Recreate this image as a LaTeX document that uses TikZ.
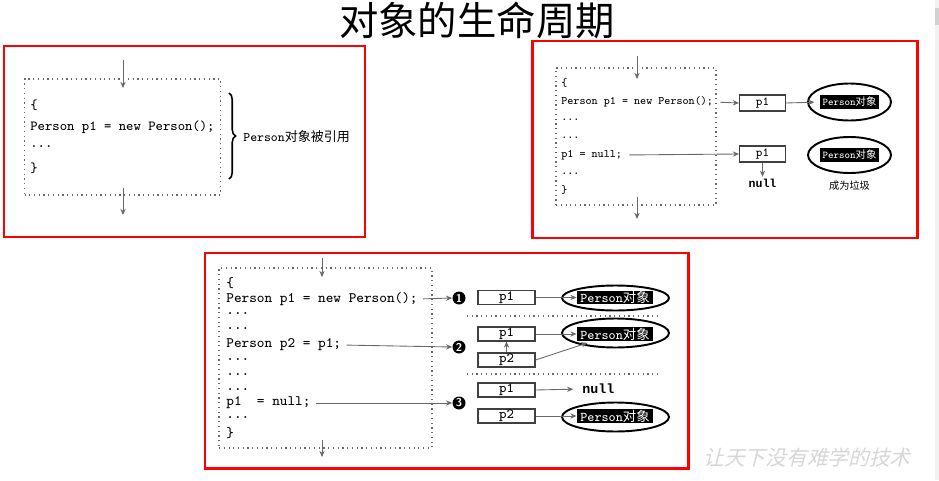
\documentclass[tikz,border=0pt]{standalone}
\usepackage{fontspec}
\newfontfamily\cjk{Noto Sans CJK SC}
\newfontfamily\cjkslant[FakeSlant=0.25]{Noto Sans CJK SC}
\newfontfamily\boldmono{Liberation Mono}
\usepackage{tikz}
\usetikzlibrary{shapes.geometric, arrows.meta, positioning, calc, decorations.pathreplacing}
\definecolor{framered}{RGB}{255, 0, 0}
\definecolor{linegray}{RGB}{105, 105, 105}
\definecolor{markgray}{RGB}{215, 215, 215}
\newcommand{\pobj}{\texttt{Person}{\cjk 对象}}
\tikzset{
    redframe/.style={draw=framered, line width=1.7pt},
    codeframe/.style={draw=linegray, dotted, line width=0.7pt},
    line/.style={draw, -{Stealth[length=3.5pt, width=3pt]}, linegray, line width=0.5pt},
    sepline/.style={draw=linegray, dotted, line width=0.7pt},
    codeA/.style={anchor=west, inner sep=0pt, font=\ttfamily\fontsize{7.9}{9}\selectfont},
    codeB/.style={anchor=west, inner sep=0pt, font=\ttfamily\fontsize{6.5}{7}\selectfont},
    codeC/.style={anchor=west, inner sep=0pt, font=\ttfamily\fontsize{8.2}{9}\selectfont}
}

\begin{document}
\begin{tikzpicture}[
    x=0.02cm, y=-0.02cm,
    refbox/.style={rectangle, draw=black!75, line width=0.6pt, inner sep=0pt, font=\ttfamily\fontsize{8}{9}\selectfont},
    objring/.style={ellipse, draw, line width=1.1pt, inner sep=0pt},
    objtag/.style={rectangle, fill=black, text=white, inner xsep=2pt, inner ysep=0.2pt},
    numdot/.style={circle, fill=black, text=white, inner sep=0pt, minimum size=0.26cm, font=\sffamily\bfseries\fontsize{6.5}{7}\selectfont}
]
    \useasboundingbox (0,0) rectangle (939,480);
    \fill[white] (0,0) rectangle (939,480);
    \fill[gray!10] (935,0) rectangle (939,480);
    \fill[gray!35] (935,8) rectangle (939,25);

    \node[font=\cjk\fontsize{22.4}{25}\selectfont] (title) at (477,20) {对象的生命周期};

    % first panel
    \draw[redframe] (4,46) rectangle (365,237);
    \node[codeframe, minimum width=3.92cm, minimum height=2.32cm] (frameA) at (122.5,137) {};
    \coordinate (inA) at (123,60);
    \coordinate (inAend) at (123,88);
    \coordinate (outA) at (123,188);
    \coordinate (outAend) at (123,215);
    \draw[line] (inA) -- (inAend);
    \draw[line] (outA) -- (outAend);
    \node[codeA] (a1) at (30,105) {\{};
    \node[codeA] (a2) at (30,127) {Person p1 = new Person();};
    \node[codeA] (a3) at (30,147) {...};
    \node[codeA] (a4) at (30,168) {\}};
    \coordinate (braceTop) at (229,93);
    \coordinate (braceBot) at (229,179);
    \draw[decorate, decoration={brace, amplitude=0.13cm}, line width=0.9pt] (braceTop) -- (braceBot);
    \node[anchor=west, inner sep=0pt, font=\fontsize{7.4}{8}\selectfont] (refd) at (243,137) {\texttt{Person}{\cjk 对象被引用}};

    % second panel
    \draw[redframe] (532,41) rectangle (917,238);
    \node[codeframe, minimum width=3.2cm, minimum height=2.74cm] (frameB) at (636,136.5) {};
    \coordinate (inB) at (637,56);
    \coordinate (inBend) at (637,79);
    \coordinate (outB) at (637,197);
    \coordinate (outBend) at (637,219);
    \draw[line] (inB) -- (inBend);
    \draw[line] (outB) -- (outBend);
    \node[codeB] (b1) at (561,83) {\{};
    \node[codeB] (b2) at (561,102) {Person p1 = new Person();};
    \node[codeB] (b3) at (561,120) {...};
    \node[codeB] (b4) at (561,138) {...};
    \node[codeB] (b5) at (561,155) {p1 = null;};
    \node[codeB] (b6) at (561,174) {...};
    \node[codeB] (b7) at (561,190) {\}};

    \node[refbox, minimum width=0.92cm, minimum height=0.32cm, font=\ttfamily\fontsize{7}{8}\selectfont] (bp1) at (762.5,103) {p1};
    \node[refbox, minimum width=0.92cm, minimum height=0.32cm, font=\ttfamily\fontsize{7}{8}\selectfont] (bp1n) at (762.5,154) {p1};
    \node[objring, minimum width=1.66cm, minimum height=0.74cm] (bring1) at (849.5,102) {};
    \node[objtag, font=\fontsize{5.9}{6}\selectfont, inner xsep=1.5pt, inner ysep=1.4pt] (btag1) at (849.5,102) {\pobj};
    \node[objring, minimum width=1.66cm, minimum height=0.72cm] (bring2) at (849.5,155) {};
    \node[objtag, font=\fontsize{5.9}{6}\selectfont, inner xsep=1.5pt, inner ysep=1.4pt] (btag2) at (849.5,155) {\pobj};
    \node[below=0.32cm of bp1n, inner sep=0pt, font=\boldmono\bfseries\fontsize{6.6}{8}\selectfont] (bnull) {null};
    \node[below=0.14cm of bring2, inner sep=0pt, font=\cjk\fontsize{5.8}{7}\selectfont] (bgarb) {成为垃圾};

    \draw[line, shorten <=4pt] (b2.east) -- (bp1.west);
    \draw[line, shorten <=4pt] (b5.east) -- (bp1n.west);
    \draw[line, shorten >=3pt] (bp1.east) -- (btag1.west);
    \draw[line, shorten >=1pt] (bp1n.south) -- (bnull.north);

    % third panel
    \draw[redframe] (205,253) rectangle (688,468);
    \node[codeframe, minimum width=4.26cm, minimum height=3.6cm] (frameC) at (325.5,358) {};
    \coordinate (inC) at (322,258);
    \coordinate (inCend) at (322,277);
    \coordinate (outC) at (322,440);
    \coordinate (outCend) at (322,457);
    \draw[line] (inC) -- (inCend);
    \draw[line] (outC) -- (outCend);
    \node[codeC] (c1) at (226,283) {\{};
    \node[codeC] (c2) at (226,299) {Person p1 = new Person();};
    \node[codeC] (c3) at (226,314) {...};
    \node[codeC] (c4) at (226,329) {...};
    \node[codeC] (c5) at (226,345) {Person p2 = p1;};
    \node[codeC] (c6) at (226,360) {...};
    \node[codeC] (c7) at (226,375) {...};
    \node[codeC] (c8) at (226,390) {...};
    \node[codeC] (c9) at (226,403) {p1~~= null;};
    \node[codeC] (c10) at (226,418) {...};
    \node[codeC] (c11) at (226,433) {\}};

    \node[numdot] (n1) at (459,298) {1};
    \node[numdot] (n2) at (459,347) {2};
    \node[numdot] (n3) at (459,403) {3};
    \draw[line, shorten <=3pt] (c2.east) -- (n1.west);
    \draw[line, shorten <=3pt] (c5.east) -- (n2.west);
    \draw[line, shorten <=3pt] (c9.east) -- (n3.west);

    \node[refbox, minimum width=1.14cm, minimum height=0.28cm] (r1p1) at (506.5,297.5) {p1};
    \node[objring, minimum width=2.14cm, minimum height=0.5cm] (ring1) at (615.5,298) {};
    \node[objtag, font=\fontsize{7.6}{8}\selectfont] (tag1) at (615,297.5) {\pobj};
    \draw[line] (r1p1.east) -- (tag1.west);

    \coordinate (sepA) at (467,316);
    \coordinate (sepAend) at (658,316);
    \draw[sepline] (sepA) -- (sepAend);

    \node[refbox, minimum width=1.14cm, minimum height=0.28cm] (r2p1) at (506.5,334) {p1};
    \node[refbox, minimum width=1.14cm, minimum height=0.28cm] (r2p2) at (506.5,360) {p2};
    \node[objring, minimum width=2.14cm, minimum height=0.58cm] (ring2) at (615.5,333) {};
    \node[objtag, font=\fontsize{7.6}{8}\selectfont] (tag2) at (615,334) {\pobj};
    \draw[line] (r2p1.east) -- (tag2.west);
    \draw[line] (r2p2.north) -- (r2p1.south);
    \draw[line] (r2p2.east) -- ([xshift=0.22cm, yshift=-0.04cm]tag2.south west);

    \coordinate (sepB) at (467,374);
    \coordinate (sepBend) at (658,374);
    \draw[sepline] (sepB) -- (sepBend);

    \node[refbox, minimum width=1.14cm, minimum height=0.28cm] (r3p1) at (506.5,390) {p1};
    \node[anchor=west, inner sep=0pt, font=\boldmono\bfseries\fontsize{7.6}{9}\selectfont] (cnull) at (582,389) {null};
    \node[refbox, minimum width=1.14cm, minimum height=0.28cm] (r3p2) at (506.5,416) {p2};
    \node[objring, minimum width=2.14cm, minimum height=0.58cm] (ring3) at (615.5,417) {};
    \node[objtag, font=\fontsize{7.6}{8}\selectfont] (tag3) at (615,416) {\pobj};
    \draw[line, shorten >=5pt] (r3p1.east) -- (cnull.west);
    \draw[line] (r3p2.east) -- (tag3.west);

    \node[text=markgray, font=\cjkslant\fontsize{11.8}{13}\selectfont] (motto) at (807,458) {让天下没有难学的技术};
\end{tikzpicture}
\end{document}
